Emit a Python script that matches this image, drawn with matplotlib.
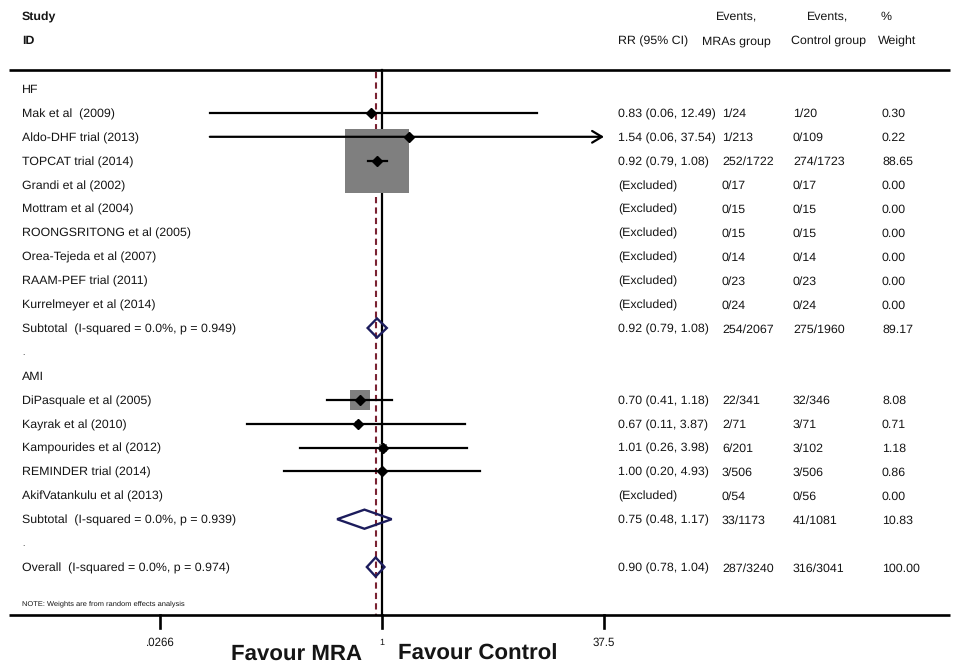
"""
Forest plot: MRA vs control, risk ratios by subgroup (HF / AMI).
"""
import numpy as np
import matplotlib

matplotlib.use("Agg")
import matplotlib.pyplot as plt  # noqa: E402

plt.rcParams["font.family"] = ["Liberation Sans", "DejaVu Sans"]
plt.rcParams["text.hinting"] = "no_hinting"

nan = np.nan

row_labels = [
    "HF",
    "Mak et al  (2009)",
    "Aldo-DHF trial (2013)",
    "TOPCAT trial (2014)",
    "Grandi et al (2002)",
    "Mottram et al (2004)",
    "ROONGSRITONG et al (2005)",
    "Orea-Tejeda et al (2007)",
    "RAAM-PEF trial (2011)",
    "Kurrelmeyer et al (2014)",
    "Subtotal  (I-squared = 0.0%, p = 0.949)",
    ".",
    "AMI",
    "DiPasquale et al (2005)",
    "Kayrak et al (2010)",
    "Kampourides et al (2012)",
    "REMINDER trial (2014)",
    "AkifVatankulu et al (2013)",
    "Subtotal  (I-squared = 0.0%, p = 0.939)",
    ".",
    "Overall  (I-squared = 0.0%, p = 0.974)",
]
row_kind = ["group"] + ["study"] * 9 + ["pooled", "blank", "group"] + ["study"] * 5 + ["pooled", "blank", "pooled"]

rr_est = [nan, 0.83, 1.54, 0.92, nan, nan, nan, nan, nan, nan, 0.92,
          nan, nan, 0.70, 0.67, 1.01, 1.00, nan, 0.75, nan, 0.90]
ci_low = [nan, 0.06, 0.06, 0.79, nan, nan, nan, nan, nan, nan, 0.79,
          nan, nan, 0.41, 0.11, 0.26, 0.20, nan, 0.48, nan, 0.78]
ci_high = [nan, 12.49, 37.54, 1.08, nan, nan, nan, nan, nan, nan, 1.08,
           nan, nan, 1.18, 3.87, 3.98, 4.93, nan, 1.17, nan, 1.04]
weights = [nan, 0.30, 0.22, 88.65, 0.00, 0.00, 0.00, 0.00, 0.00, 0.00, 89.17,
           nan, nan, 8.08, 0.71, 1.18, 0.86, 0.00, 10.83, nan, 100.00]
events_mra = ["", "1/24", "1/213", "252/1722", "0/17", "0/15", "0/15", "0/14", "0/23", "0/24", "254/2067",
              "", "", "22/341", "2/71", "6/201", "3/506", "0/54", "33/1173", "", "287/3240"]
events_ctl = ["", "1/20", "0/109", "274/1723", "0/17", "0/15", "0/15", "0/14", "0/23", "0/24", "275/1960",
              "", "", "32/346", "3/71", "3/102", "3/506", "0/56", "41/1081", "", "316/3041"]

tick_values = [0.0266, 1, 37.5]
tick_labels = [".0266", "1", "37.5"]

W, H = 954, 663
fig = plt.figure(figsize=(W / 100, H / 100), dpi=100)
ax = fig.add_axes([0, 0, 1, 1])
ax.set_xscale("log")

# map the outer ticks to their pixel columns
f_lo, f_hi = 160 / W, 604 / W
span = (np.log(tick_values[-1]) - np.log(tick_values[0])) / (f_hi - f_lo)
ln_min = np.log(tick_values[0]) - f_lo * span
ax.set_xlim(np.exp(ln_min), np.exp(ln_min + span))

row_px0, row_step = 89, 23.9
ax.set_ylim((H - row_px0) / row_step, -row_px0 / row_step)
ax.axis("off")


def ypx(p):
    return (p - row_px0) / row_step


def xf(p):
    return p / W


tr = ax.get_yaxis_transform()
txt = "#151515"
fs = 8.9


def put(x, y, s, size=fs, **kw):
    # baseline placed so the cap height is centred on y (row units)
    off = size * 100 / 72 * 0.716 / 2 / row_step
    kw.setdefault("transform", tr)
    ax.text(x, y + off, s, fontsize=size, va="baseline", color=txt, **kw)


# header
put(xf(22), ypx(16), "Study", fontweight="bold")
put(xf(22), ypx(40), "ID", fontweight="bold")
put(xf(618), ypx(40), "RR (95% CI)")
put(xf(737), ypx(15), "Events,", ha="center")
put(xf(736), ypx(40), "MRAs group", ha="center")
put(xf(828), ypx(15), "Events,", ha="center")
put(xf(829), ypx(40), "Control group", ha="center")
put(xf(881), ypx(15), "%")
put(xf(878), ypx(40), "Weight")

# frame lines
y_top, y_axis = ypx(70), ypx(615)
ax.plot([xf(9), xf(950)], [y_top, y_top], transform=tr, color="black", lw=1.9, solid_capstyle="butt")
ax.plot([xf(9), xf(950)], [y_axis, y_axis], transform=tr, color="black", lw=1.9, solid_capstyle="butt")

# reference line at 1 and overall estimate
ax.plot([1, 1], [y_top, y_axis], color="black", lw=1.6, zorder=1)
ax.plot([rr_est[-1]] * 2, [y_top + 0.1, y_axis], color="#7a2232", lw=1.5,
        linestyle=(0, (3, 2)), zorder=1)

for v, lab in zip(tick_values, tick_labels):
    ax.plot([v, v], [y_axis, ypx(628)], color="black", lw=1.9)
    put(v, ypx(642), lab, size=8.3 if lab != "1" else 6.5, ha="center", transform=ax.transData)

put(xf(362), ypx(652), "Favour MRA", size=16, fontweight="bold", ha="right")
put(xf(398), ypx(652), "Favour Control", size=16, fontweight="bold", ha="left")

put(xf(22), ypx(603), "NOTE: Weights are from random effects analysis", size=5.4)

max_w = np.nanmax([w for w, k in zip(weights, row_kind) if k == "study"])
box_max_px = 64

for i, (lab, kind) in enumerate(zip(row_labels, row_kind)):
    put(xf(22), i, lab, size=fs if kind != "blank" else 6)
    if kind in ("group", "blank"):
        continue
    est, lo, hi, w = rr_est[i], ci_low[i], ci_high[i], weights[i]
    if np.isnan(est):
        rr_txt = "(Excluded)"
    else:
        rr_txt = f"{est:.2f} ({lo:.2f}, {hi:.2f})"
    put(xf(618), i, rr_txt)
    put(xf(722), i, events_mra[i])
    put(xf(793), i, events_ctl[i])
    put(xf(882), i, f"{w:.2f}")

    if np.isnan(est):
        continue
    if kind == "study":
        side_px = box_max_px * np.sqrt(w / max_w)
        ax.scatter([est], [i], s=(side_px * 0.72) ** 2, marker="s", color="#7f7f7f",
                   linewidths=0, zorder=2)
        if hi > tick_values[-1]:
            ax.annotate("", xy=(tick_values[-1], i), xytext=(lo, i),
                        arrowprops=dict(arrowstyle="->,head_length=0.5,head_width=0.3",
                                        color="black", lw=1.6, shrinkA=0, shrinkB=0,
                                        mutation_scale=14), zorder=3)
        else:
            ax.plot([lo, hi], [i, i], color="black", lw=1.6, zorder=3)
        ax.plot([est], [i], marker="D", markersize=4.8, color="black", zorder=4)
    else:
        h = 0.4
        ax.fill([lo, est, hi, est, lo], [i, i - h, i, i + h, i], facecolor="none",
                edgecolor="#1c1c5c", lw=1.7, zorder=3)

fig.savefig("out.png", dpi=100)
plt.close(fig)
